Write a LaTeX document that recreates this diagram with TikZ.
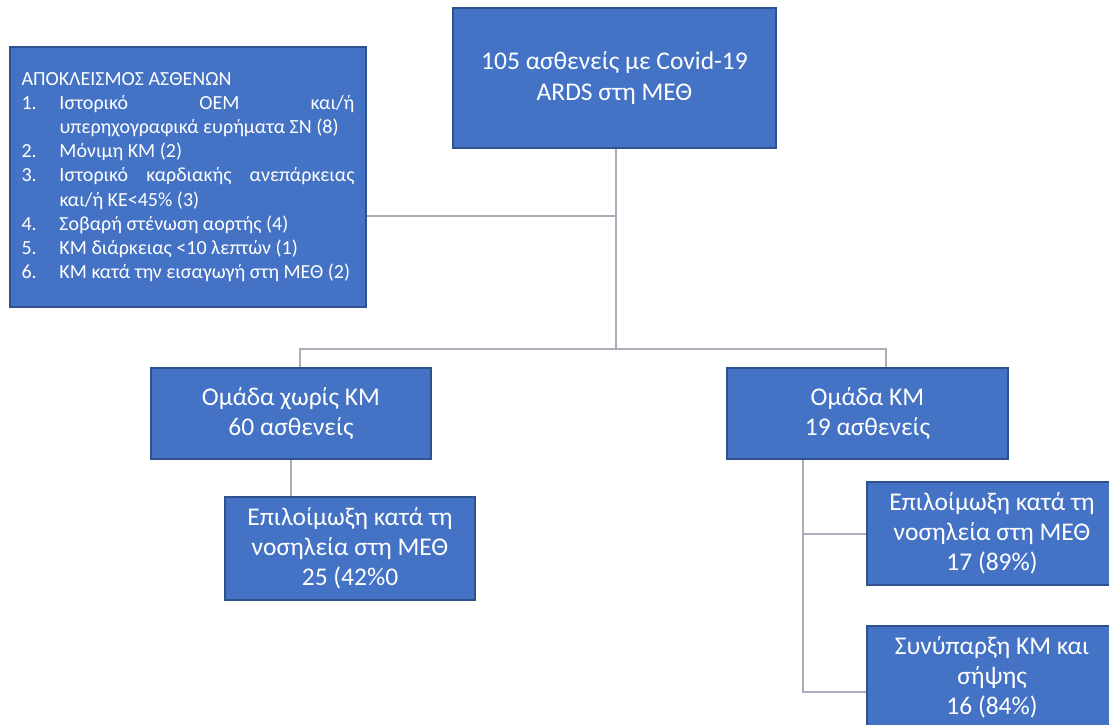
\documentclass[tikz,border=0pt]{standalone}
\usepackage{fontspec}
\setmainfont{Carlito}
\usetikzlibrary{positioning, calc}
\definecolor{boxblue}{HTML}{4472C4}
\definecolor{boxedge}{HTML}{2F528F}
\definecolor{linegray}{RGB}{170,174,186}
\newcommand{\exitem}[2]{\par\noindent\hangindent=38pt\hangafter=1\makebox[38pt][l]{#1}#2}

\begin{document}
\begin{tikzpicture}[x=1pt,y=-1pt,
	box/.style={rectangle, draw=boxedge, line width=1.2pt, fill=boxblue, text=white, align=center,
		inner sep=0pt, font=\fontsize{25.5}{30}\selectfont},
	listbox/.style={box, align=justify, font=\fontsize{20}{24.2}\selectfont},
	conn/.style={draw=linegray, line width=2pt}
	]
	\useasboundingbox (0,0) rectangle (1109,724);

	\node[box, minimum width=323pt, minimum height=140pt, font=\fontsize{25.5}{31}\selectfont] (total) at (614.5,78)
	{105 ασθενείς με Covid-19\\ARDS στη ΜΕΘ};
	\node[listbox, text width=333pt, minimum width=356pt, minimum height=260pt] (excl) at (188,177) {%
		\hyphenpenalty=10000
		\noindent ΑΠΟΚΛΕΙΣΜΟΣ ΑΣΘΕΝΩΝ
		\exitem{1.}{Ιστορικό ΟΕΜ και/ή\linebreak υπερηχογραφικά ευρήματα ΣΝ (8)}
		\exitem{2.}{Μόνιμη ΚΜ (2)}
		\exitem{3.}{Ιστορικό καρδιακής ανεπάρκειας\linebreak και/ή ΚΕ<45\% (3)}
		\exitem{4.}{Σοβαρή στένωση αορτής (4)}
		\exitem{5.}{ΚΜ διάρκειας <10 λεπτών (1)}
		\exitem{6.}{ΚΜ κατά την εισαγωγή στη ΜΕΘ (2)}};

	\node[box, minimum width=280pt, minimum height=91pt] (noKM) at (291,413.5)
	{Ομάδα χωρίς ΚΜ\\60 ασθενείς};
	\node[box, minimum width=281pt, minimum height=91pt] (KM) at (867.5,413.5)
	{Ομάδα ΚΜ\\19 ασθενείς};

	\node[box, minimum width=250pt, minimum height=103pt] (infA) at (350,548.5)
	{Επιλοίμωξη κατά τη\\νοσηλεία στη ΜΕΘ\\25 (42\%0};
	\node[box, minimum width=250pt, minimum height=103pt] (infB) at (992,533.5)
	{Επιλοίμωξη κατά τη\\νοσηλεία στη ΜΕΘ\\17 (89\%)};
	\node[box, minimum width=250pt, minimum height=103pt] (sepsis) at (992,677.5)
	{Συνύπαρξη ΚΜ και\\σήψης\\16 (84\%)};

	% connectors
	\coordinate (split) at (616,349);
	\coordinate (exj) at (616,216);
	\coordinate (bl) at (300,349);
	\coordinate (br) at (886,349);
	\coordinate (trunk) at (803,692);

	\draw[conn] (split |- total.south) -- (split);
	\draw[conn] (exj) -- (exj -| excl.east);
	\draw[conn] (bl |- noKM.north) -- (bl) -- (br) -- (br |- KM.north);
	\draw[conn] (noKM.south) -- (noKM.south |- infA.north);
	\draw[conn] (trunk |- KM.south) -- (trunk) -- (trunk -| sepsis.west);
	\draw[conn] (infB.west -| trunk) -- (infB.west);
\end{tikzpicture}
\end{document}
